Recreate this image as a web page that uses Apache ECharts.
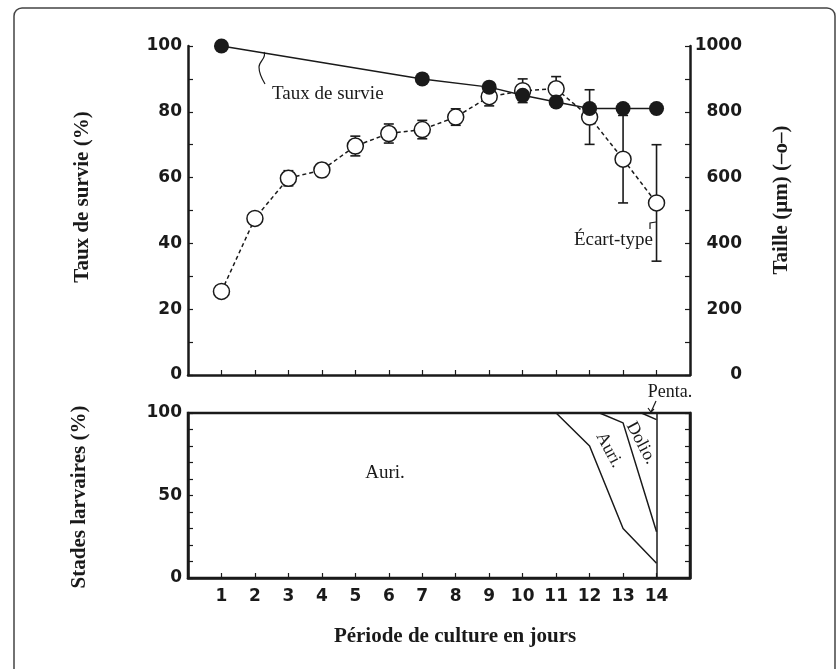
<!DOCTYPE html>
<html>
<head>
<meta charset="utf-8">
<script src="https://cdn.jsdelivr.net/npm/echarts@6/dist/echarts.min.js"></script>
<style>
  html, body { margin: 0; padding: 0; background: #fff; }
  #chart { width: 837px; height: 669px; }
</style>
</head>
<body>
<div id="chart"></div>
<script>
// jours de culture
const days = [1, 2, 3, 4, 5, 6, 7, 8, 9, 10, 11, 12, 13, 14]
// taux de survie (%) - points pleins
const survieDays = [1, 7, 9, 10, 11, 12, 13, 14]
const survie = [100, 90, 87.5, 85, 83, 81, 81, 81]
// taille (µm) - points vides + écart-type
const taille = [254, 476, 598, 623, 696, 734, 746, 784, 846, 864, 870, 784, 656, 523]
const ecartType = [0, 0, 23, 20, 30, 29, 28, 25, 28, 36, 37, 83, 133, 177]
// stades larvaires (%) - limites entre stades
const auriX = [11, 12, 13, 14]
const auriY = [100, 80, 30, 9]
const dolioX = [12.3, 13, 14]
const dolioY = [100, 94, 28]
const pentaX = [13.55, 14]
const pentaY = [100, 96]

const sans = '"DejaVu Sans", sans-serif'
const serif = '"Liberation Serif", "DejaVu Serif", serif'
const ink = '#1a1a1a'

const pairs = (xs, ys) => xs.map((x, i) => [x, ys[i]])

const tickLabel = { fontFamily: sans, fontWeight: 'bold', fontSize: 17, color: ink }

function xAxisDef(gridIndex, showLabels) {
  return {
    type: 'value', gridIndex: gridIndex, min: 0, max: 15, interval: 1,
    axisLine: { lineStyle: { color: ink, width: 2.5 } },
    axisTick: { inside: true, length: 5, lineStyle: { color: ink, width: 1.2 } },
    axisLabel: Object.assign({
      show: showLabels, margin: 10,
      formatter: v => (v >= 1 && v <= 14 ? String(v) : '')
    }, tickLabel),
    splitLine: { show: false }
  }
}

function yAxisDef(gridIndex, pos, max, interval, labelEvery, showLabels, extra) {
  return Object.assign({
    type: 'value', gridIndex: gridIndex, position: pos, min: 0, max: max, interval: interval,
    axisLine: { show: true, lineStyle: { color: ink, width: 2.5 } },
    axisTick: { show: true, inside: true, length: 5, lineStyle: { color: ink, width: 1.2 } },
    axisLabel: Object.assign({
      show: showLabels, margin: 6,
      formatter: v => (v % labelEvery === 0 ? String(v) : '')
    }, tickLabel),
    splitLine: { show: false }
  }, extra || {})
}

const errData = days
  .map((d, i) => [d, taille[i] - ecartType[i], taille[i] + ecartType[i]])
  .filter((r, i) => ecartType[i] > 0)

const chart = echarts.init(document.getElementById('chart'))

const lineStroke = { fill: 'none', stroke: ink, lineWidth: 1.2 }

chart.setOption({
  animation: false,
  backgroundColor: '#fff',
  grid: [
    { left: 188, right: 147, top: 46, height: 329 },
    { left: 188, right: 147, top: 413, height: 165, show: true, borderColor: ink, borderWidth: 2.5 }
  ],
  xAxis: [xAxisDef(0, false), xAxisDef(1, true)],
  yAxis: [
    yAxisDef(0, 'left', 100, 10, 20, true),
    yAxisDef(0, 'right', 1000, 100, 200, true, {
      axisLabel: Object.assign({
        margin: 52, align: 'right',
        formatter: v => (v % 200 === 0 ? String(v) : '')
      }, tickLabel)
    }),
    yAxisDef(1, 'left', 100, 10, 50, true),
    yAxisDef(1, 'right', 100, 10, 50, false)
  ],
  series: [
    {
      type: 'custom', name: 'ecart', xAxisIndex: 0, yAxisIndex: 1, z: 2,
      data: errData,
      encode: { x: 0, y: [1, 2] },
      renderItem: function (params, api) {
        const x = api.value(0)
        const lo = api.coord([x, api.value(1)])
        const hi = api.coord([x, api.value(2)])
        const w = 5
        const st = { stroke: ink, lineWidth: 1.6 }
        return {
          type: 'group',
          children: [
            { type: 'line', shape: { x1: lo[0], y1: lo[1], x2: hi[0], y2: hi[1] }, style: st },
            { type: 'line', shape: { x1: lo[0] - w, y1: lo[1], x2: lo[0] + w, y2: lo[1] }, style: st },
            { type: 'line', shape: { x1: hi[0] - w, y1: hi[1], x2: hi[0] + w, y2: hi[1] }, style: st }
          ]
        }
      }
    },
    {
      type: 'line', name: 'Taille', xAxisIndex: 0, yAxisIndex: 1, z: 3,
      data: pairs(days, taille),
      symbol: 'circle', symbolSize: 16, showAllSymbol: true,
      lineStyle: { color: ink, width: 1.5, type: [4, 3] },
      itemStyle: { color: '#fff', borderColor: ink, borderWidth: 1.5 }
    },
    {
      type: 'line', name: 'Taux de survie', xAxisIndex: 0, yAxisIndex: 0, z: 4,
      data: pairs(survieDays, survie),
      symbol: 'circle', symbolSize: 15, showAllSymbol: true,
      lineStyle: { color: ink, width: 1.5 },
      itemStyle: { color: ink, borderWidth: 0 }
    },
    {
      type: 'line', name: 'Auri', xAxisIndex: 1, yAxisIndex: 2,
      data: pairs(auriX, auriY), symbol: 'none',
      lineStyle: { color: ink, width: 1.5 },
      markLine: {
        silent: true, symbol: 'none', label: { show: false },
        lineStyle: { color: ink, width: 1.5, type: 'solid' },
        data: [{ xAxis: 14 }]
      }
    },
    {
      type: 'line', name: 'Dolio', xAxisIndex: 1, yAxisIndex: 2,
      data: pairs(dolioX, dolioY), symbol: 'none',
      lineStyle: { color: ink, width: 1.5 }
    },
    {
      type: 'line', name: 'Penta', xAxisIndex: 1, yAxisIndex: 2,
      data: pairs(pentaX, pentaY), symbol: 'none',
      lineStyle: { color: ink, width: 1.5 }
    }
  ],
  graphic: [
    // cadre extérieur
    { type: 'rect', silent: true, z: 0,
      shape: { x: 14, y: 8, width: 821, height: 672, r: 8 },
      style: { fill: 'none', stroke: '#444', lineWidth: 1.5 } },
    // titres des axes
    { type: 'text', x: 83, y: 197, rotation: Math.PI / 2,
      style: { text: 'Taux de survie (%)', font: 'bold 21px ' + serif, fill: ink, align: 'center', verticalAlign: 'middle' } },
    { type: 'text', x: 782, y: 200, rotation: Math.PI / 2,
      style: { text: 'Taille (µm) (–o–)', font: 'bold 21px ' + serif, fill: ink, align: 'center', verticalAlign: 'middle' } },
    { type: 'text', x: 80, y: 497, rotation: Math.PI / 2,
      style: { text: 'Stades larvaires (%)', font: 'bold 21px ' + serif, fill: ink, align: 'center', verticalAlign: 'middle' } },
    { type: 'text', x: 455, y: 637,
      style: { text: 'Période de culture en jours', font: 'bold 21px ' + serif, fill: ink, align: 'center', verticalAlign: 'middle' } },
    // annotations
    { type: 'text', x: 272, y: 94,
      style: { text: 'Taux de survie', font: '19px ' + serif, fill: ink, align: 'left', verticalAlign: 'middle' } },
    { type: 'bezierCurve', silent: true,
      shape: { x1: 264, y1: 52, cpx1: 267, cpy1: 58, cpx2: 259, cpy2: 61, x2: 259, y2: 67 },
      style: lineStroke },
    { type: 'bezierCurve', silent: true,
      shape: { x1: 259, y1: 67, cpx1: 259, cpy1: 74, cpx2: 262, cpy2: 79, x2: 265, y2: 84 },
      style: lineStroke },
    { type: 'text', x: 653, y: 240,
      style: { text: 'Écart-type', font: '19px ' + serif, fill: ink, align: 'right', verticalAlign: 'middle' } },
    { type: 'polyline', silent: true,
      shape: { points: [[650, 229], [650, 223], [656, 222]] },
      style: lineStroke },
    { type: 'text', x: 385, y: 473,
      style: { text: 'Auri.', font: '19px ' + serif, fill: ink, align: 'center', verticalAlign: 'middle' } },
    { type: 'text', x: 609, y: 450, rotation: -62 * Math.PI / 180,
      style: { text: 'Auri.', font: '18px ' + serif, fill: ink, align: 'center', verticalAlign: 'middle' } },
    { type: 'text', x: 641, y: 443, rotation: -62 * Math.PI / 180,
      style: { text: 'Dolio.', font: '18px ' + serif, fill: ink, align: 'center', verticalAlign: 'middle' } },
    { type: 'text', x: 670, y: 392,
      style: { text: 'Penta.', font: '18px ' + serif, fill: ink, align: 'center', verticalAlign: 'middle' } },
    { type: 'polyline', silent: true,
      shape: { points: [[656, 401], [651, 412]] },
      style: lineStroke },
    { type: 'polyline', silent: true,
      shape: { points: [[648, 408], [651, 412], [654, 409]] },
      style: lineStroke }
  ]
})

window.addEventListener('resize', () => chart.resize())
</script>
</body>
</html>
